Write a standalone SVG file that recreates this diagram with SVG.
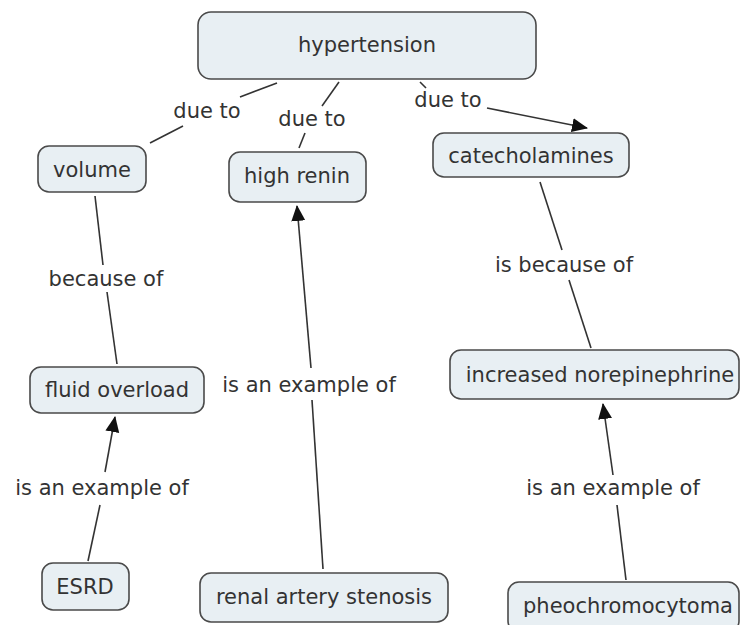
<svg xmlns="http://www.w3.org/2000/svg" width="741" height="625" viewBox="0 0 741 625">
<style>
.node rect{fill:#e8eff3;stroke:#4a4a4a;stroke-width:1.6}
text{font-family:"DejaVu Sans","Liberation Sans",sans-serif;font-size:21px;fill:#333;text-anchor:middle}
.conn path{fill:none;stroke:#333;stroke-width:1.6}
</style>
<defs>
<marker id="arr" markerUnits="userSpaceOnUse" markerWidth="16" markerHeight="16" viewBox="0 0 16 16" refX="15" refY="8" orient="auto">
<path d="M0,1 L16,8 L0,15 Z" fill="#111"/>
</marker>
</defs>
<rect width="741" height="625" fill="#fff"/>
<g class="conn" id="connectors">
<path d="M277,83 L240,97"/>
<path d="M183,126 L150,143"/>
<path d="M339,82 L322,106"/>
<path d="M305,133 L299,148"/>
<path d="M420,82 L426,88"/>
<path d="M487,108 L587,128" marker-end="url(#arr)"/>
<path d="M95,196 L103,265"/>
<path d="M107,292 L117,364"/>
<path d="M88,561 L100,505"/>
<path d="M105,472 L115,417" marker-end="url(#arr)"/>
<path d="M323,569 L312,400"/>
<path d="M311,368 L297,206" marker-end="url(#arr)"/>
<path d="M540,182 L562,250"/>
<path d="M569,280 L591,348"/>
<path d="M626,580 L617,505"/>
<path d="M613,475 L603,404" marker-end="url(#arr)"/>
</g>
<g id="labels">
<text x="207" y="118">due to</text>
<text x="312" y="126">due to</text>
<text x="448" y="107">due to</text>
<text x="106" y="286">because of</text>
<text x="102" y="495">is an example of</text>
<text x="309" y="392">is an example of</text>
<text x="564" y="272">is because of</text>
<text x="613" y="495">is an example of</text>
</g>
<g class="node" id="hypertension"><rect x="198" y="12" width="338" height="67" rx="13"/><text x="367" y="52">hypertension</text></g>
<g class="node" id="volume"><rect x="38" y="146" width="108" height="46" rx="11"/><text x="92" y="177">volume</text></g>
<g class="node" id="high-renin"><rect x="229" y="152" width="137" height="50" rx="11"/><text x="297" y="183">high renin</text></g>
<g class="node" id="catecholamines"><rect x="433" y="133" width="196" height="44" rx="11"/><text x="531" y="163">catecholamines</text></g>
<g class="node" id="fluid-overload"><rect x="30" y="367" width="174" height="46" rx="11"/><text x="117" y="397">fluid overload</text></g>
<g class="node" id="increased-norepinephrine"><rect x="450" y="350" width="289" height="49" rx="11"/><text x="600" y="382">increased norepinephrine</text></g>
<g class="node" id="esrd"><rect x="42" y="563" width="87" height="47" rx="11"/><text x="85" y="594">ESRD</text></g>
<g class="node" id="renal-artery-stenosis"><rect x="200" y="573" width="248" height="49" rx="11"/><text x="324" y="604">renal artery stenosis</text></g>
<g class="node" id="pheochromocytoma"><rect x="508" y="582" width="231" height="50" rx="11"/><text x="628" y="613">pheochromocytoma</text></g>
</svg>
